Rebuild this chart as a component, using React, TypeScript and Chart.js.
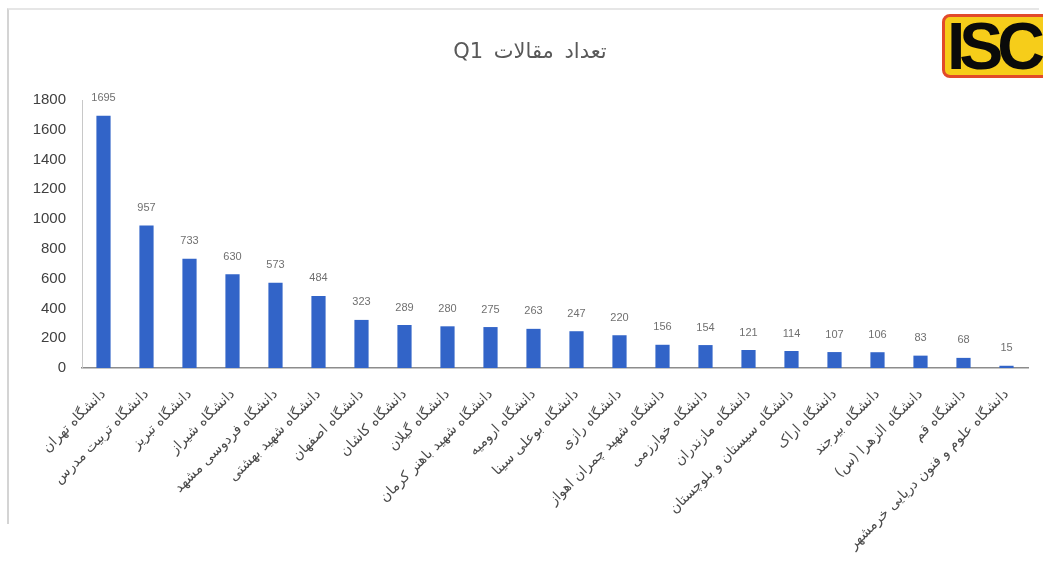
import React, { useEffect, useRef } from "react";
import { Chart, registerables } from "chart.js";

Chart.register(...registerables);

const universities: string[] = [
  "دانشگاه تهران",
  "دانشگاه تربیت مدرس",
  "دانشگاه تبریز",
  "دانشگاه شیراز",
  "دانشگاه فردوسی مشهد",
  "دانشگاه شهید بهشتی",
  "دانشگاه اصفهان",
  "دانشگاه کاشان",
  "دانشگاه گیلان",
  "دانشگاه شهید باهنر کرمان",
  "دانشگاه ارومیه",
  "دانشگاه بوعلی سینا",
  "دانشگاه رازی",
  "دانشگاه شهید چمران اهواز",
  "دانشگاه خوارزمی",
  "دانشگاه مازندران",
  "دانشگاه سیستان و بلوچستان",
  "دانشگاه اراک",
  "دانشگاه بیرجند",
  "دانشگاه الزهرا (س)",
  "دانشگاه قم",
  "دانشگاه علوم و فنون دریایی خرمشهر",
];

const articleCounts: number[] = [
  1695, 957, 733, 630, 573, 484, 323, 289, 280, 275, 263, 247, 220, 156, 154,
  121, 114, 107, 106, 83, 68, 15,
];

const yTicks: number[] = [0, 200, 400, 600, 800, 1000, 1200, 1400, 1600, 1800];

const titleText = "تعداد مقالات Q1";

const W = 1043;
const H = 568;

const valueLabelPlugin = {
  id: "valueLabels",
  afterDatasetsDraw(chart: any) {
    const ctx = chart.ctx;
    const meta = chart.getDatasetMeta(0);
    const data = chart.data.datasets[0].data as number[];
    ctx.save();
    ctx.font = "11px 'Liberation Sans', 'DejaVu Sans', sans-serif";
    ctx.fillStyle = "#707070";
    ctx.textAlign = "center";
    ctx.textBaseline = "bottom";
    meta.data.forEach((bar: any, i: number) => {
      ctx.fillText(String(data[i]), bar.x, bar.y - 12);
    });
    ctx.restore();
  },
};

export default function App() {
  const ref = useRef<HTMLCanvasElement | null>(null);

  useEffect(() => {
    if (!ref.current) return;
    const chart = new Chart(ref.current, {
      type: "bar",
      data: {
        labels: universities,
        datasets: [
          {
            data: articleCounts,
            backgroundColor: "#3264c8",
            borderWidth: 0,
            barPercentage: 0.33,
            categoryPercentage: 1,
          },
        ],
      },
      plugins: [valueLabelPlugin],
      options: {
        animation: false,
        responsive: false,
        devicePixelRatio: 1,
        layout: { padding: { top: 100, left: 0, right: 15, bottom: 0 } },
        plugins: {
          legend: { display: false },
          title: { display: false },
          tooltip: { enabled: false },
        },
        scales: {
          x: {
            grid: { display: false, drawTicks: false },
            border: { display: true, color: "#8c8c8c", width: 1.5 },
            ticks: {
              autoSkip: false,
              minRotation: 45,
              maxRotation: 45,
              padding: 18,
              color: "#4a4a4a",
              font: { family: "'DejaVu Sans', sans-serif", size: 14 },
              callback: function (this: any, value: any) {
                return this.getLabelForValue(value) + "\u200F";
              },
            },
            afterFit: (scale: any) => {
              scale.height = H - 368;
            },
          },
          y: {
            min: 0,
            max: 1800,
            afterBuildTicks: (scale: any) => {
              scale.ticks = yTicks.map((v) => ({ value: v }));
            },
            grid: { display: false, drawTicks: false },
            border: { display: true, color: "#c8c8c8", width: 1 },
            ticks: {
              padding: 16,
              color: "#404040",
              font: { family: "'Liberation Sans', 'DejaVu Sans', sans-serif", size: 15 },
              callback: (value: any) => String(value),
            },
            afterFit: (scale: any) => {
              scale.width = 82;
            },
          },
        },
      },
    });
    return () => chart.destroy();
  }, []);

  return (
    <div
      style={{
        position: "absolute",
        left: 0,
        top: 0,
        width: W,
        height: H,
        background: "#ffffff",
        overflow: "hidden",
      }}
    >
      <div
        style={{
          position: "absolute",
          left: 7,
          top: 8,
          width: 1030,
          height: 514,
          borderTop: "2px solid #e6e6e6",
          borderLeft: "2px solid #d4d4d4",
        }}
      />
      <canvas
        ref={ref}
        width={W}
        height={H}
        dir="rtl"
        style={{ position: "absolute", left: 0, top: 0, width: W, height: H }}
      />
      <div
        dir="rtl"
        style={{
          position: "absolute",
          left: 380,
          width: 300,
          top: 36,
          textAlign: "center",
          fontFamily: "'DejaVu Sans', sans-serif",
          fontSize: 21,
          lineHeight: "30px",
          wordSpacing: 4,
          color: "#595959",
        }}
      >
        {titleText}
      </div>
      <div
        style={{
          position: "absolute",
          left: 942,
          top: 14,
          width: 115,
          height: 64,
          boxSizing: "border-box",
          background: "#f6cd1a",
          border: "3px solid #e24a2a",
          borderRadius: 8,
          fontFamily: "'Liberation Sans', Arial, sans-serif",
          fontWeight: 900,
          fontSize: 66,
          lineHeight: "58px",
          letterSpacing: -6,
          color: "#0a0a0a",
          paddingLeft: 2,
          overflow: "hidden",
          whiteSpace: "nowrap",
        }}
      >
        ISC
      </div>
    </div>
  );
}
